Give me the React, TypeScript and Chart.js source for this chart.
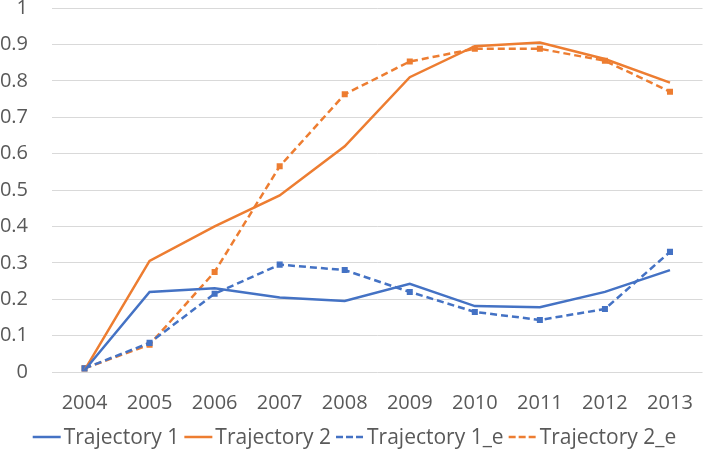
import React, { useEffect, useRef } from "react";
import { Chart, registerables } from "chart.js";

Chart.register(...registerables);

const categories = ["2004", "2005", "2006", "2007", "2008", "2009", "2010", "2011", "2012", "2013"];
const trajectory1 = [0.005, 0.22, 0.23, 0.205, 0.195, 0.242, 0.181, 0.178, 0.22, 0.28];
const trajectory2 = [0.005, 0.305, 0.4, 0.485, 0.62, 0.81, 0.895, 0.905, 0.86, 0.795];
const trajectory1e = [0.01, 0.08, 0.215, 0.295, 0.28, 0.22, 0.165, 0.143, 0.173, 0.33];
const trajectory2e = [0.01, 0.075, 0.275, 0.565, 0.763, 0.853, 0.888, 0.888, 0.855, 0.77];

const BLUE = "#4472C4";
const ORANGE = "#ED7D31";
const TEXT = "#595959";
const FONT_FAMILY = "'Open Sans', 'Noto Sans', sans-serif";
const FONT_SIZE = 20;
const LEGEND_FONT_SIZE = 21;

const legendPlugin = {
  id: "customLegend",
  afterDraw(chart: any) {
    const ctx = chart.ctx as CanvasRenderingContext2D;
    const items = chart.data.datasets.map((ds: any) => ({
      text: ds.label as string,
      color: ds.borderColor as string,
      dash: (ds.borderDash || []) as number[],
    }));
    ctx.save();
    ctx.font = `${LEGEND_FONT_SIZE}px ${FONT_FAMILY}`;
    const lineW = 28;
    const gapLT = 3;
    const gapItem = 5;
    const widths = items.map((it: any) => lineW + gapLT + ctx.measureText(it.text).width);
    const total = widths.reduce((a: number, b: number) => a + b, 0) + gapItem * (items.length - 1);
    let x = (chart.width - total) / 2;
    const y = chart.height - 15;
    items.forEach((it: any, i: number) => {
      ctx.strokeStyle = it.color;
      ctx.lineWidth = 2.5;
      ctx.setLineDash(it.dash.length ? [7, 3] : []);
      ctx.beginPath();
      ctx.moveTo(x, y);
      ctx.lineTo(x + lineW, y);
      ctx.stroke();
      ctx.setLineDash([]);
      ctx.fillStyle = TEXT;
      ctx.textBaseline = "middle";
      ctx.textAlign = "left";
      ctx.fillText(it.text, x + lineW + gapLT, y + 1);
      x += widths[i] + gapItem;
    });
    ctx.restore();
  },
};

const zeroPad = (s: any) => {
  s.paddingTop = 0;
  s.paddingBottom = 0;
  s.paddingLeft = 0;
  s.paddingRight = 0;
};

export default function App() {
  const ref = useRef<HTMLCanvasElement>(null);
  useEffect(() => {
    document.body.style.margin = "0";
    const font = { family: FONT_FAMILY, size: FONT_SIZE };
    const chart = new Chart(ref.current!, {
      type: "line",
      data: {
        labels: categories,
        datasets: [
          { label: "Trajectory 1", data: trajectory1, borderColor: BLUE, backgroundColor: BLUE, borderWidth: 2.5, pointRadius: 0, tension: 0 },
          { label: "Trajectory 2", data: trajectory2, borderColor: ORANGE, backgroundColor: ORANGE, borderWidth: 2.5, pointRadius: 0, tension: 0 },
          { label: "Trajectory 1_e", data: trajectory1e, borderColor: BLUE, backgroundColor: BLUE, borderWidth: 2.5, borderDash: [7, 4], pointStyle: "rect", pointRadius: 2.5, tension: 0 },
          { label: "Trajectory 2_e", data: trajectory2e, borderColor: ORANGE, backgroundColor: ORANGE, borderWidth: 2.5, borderDash: [7, 4], pointStyle: "rect", pointRadius: 2.5, tension: 0 },
        ],
      },
      options: {
        animation: false,
        responsive: false,
        layout: { padding: { top: 8, right: 2, left: 0, bottom: 37 } },
        scales: {
          x: {
            offset: true,
            grid: { display: false, drawTicks: false },
            border: { display: false },
            ticks: { color: TEXT, font, padding: 19, maxRotation: 0, minRotation: 0, autoSkip: false },
            afterFit: (s: any) => {
              s.height = 43;
              zeroPad(s);
            },
          },
          y: {
            min: 0,
            max: 1,
            ticks: {
              stepSize: 0.1,
              color: TEXT,
              font,
              padding: 24,
              callback: (v: any) => String(Number(Number(v).toFixed(1))),
            },
            grid: { color: "#D9D9D9", lineWidth: 1, drawTicks: false },
            border: { display: false },
            afterFit: (s: any) => {
              s.width = 52;
              zeroPad(s);
            },
          },
        },
        plugins: {
          legend: { display: false },
          tooltip: { enabled: false },
        },
      },
      plugins: [legendPlugin],
    });
    return () => chart.destroy();
  }, []);
  return <canvas ref={ref} width={709} height={452} style={{ display: "block" }} />;
}
